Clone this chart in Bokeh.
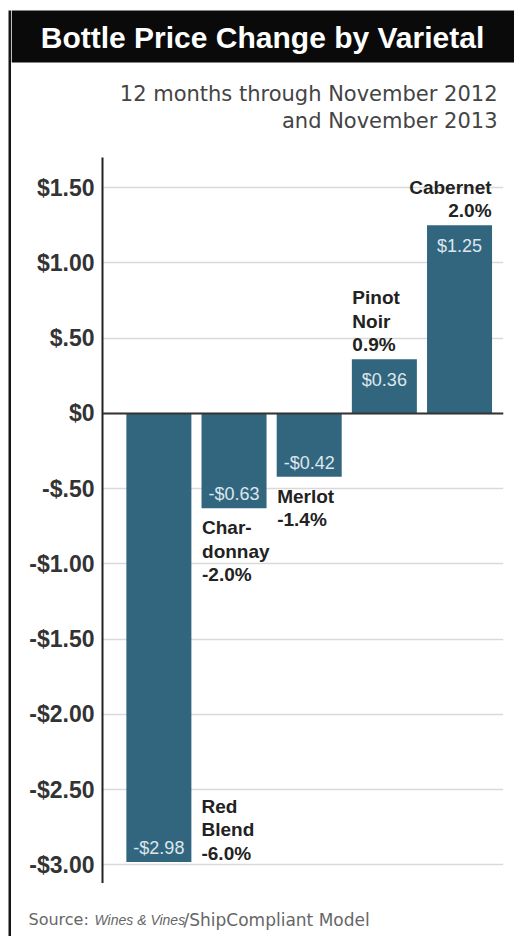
from bokeh.plotting import figure
from bokeh.layouts import row, column
from bokeh.models import (ColumnDataSource, Range1d, FixedTicker, Span, Label,
                          BoxAnnotation)
from bokeh.core.properties import value, field
from bokeh.embed import file_html
from bokeh.resources import INLINE

# ---------------- data ----------------
varietals = ["Red Blend", "Chardonnay", "Merlot", "Pinot Noir", "Cabernet"]
label_names = ["Red\nBlend", "Char-\ndonnay", "Merlot", "Pinot\nNoir", "Cabernet"]
price_change = [-2.98, -0.63, -0.42, 0.36, 1.25]
pct_change = [-6.0, -2.0, -1.4, 0.9, 2.0]
y_ticks = [-3.0, -2.5, -2.0, -1.5, -1.0, -0.5, 0.0, 0.5, 1.0, 1.5]
y_tick_labels = ["-$3.00", "-$2.50", "-$2.00", "-$1.50", "-$1.00", "-$.50",
                 "$0", "$.50", "$1.00", "$1.50"]
title_text = "Bottle Price Change by Varietal"
subtitle_lines = ["12 months through November 2012", "and November 2013"]

# ---------------- styling ----------------
BAR = "#32667f"
FONT = "Liberation Sans"
TOTAL_W = 514
TOTAL_H = 936
STRIP_W = 11
W = TOTAL_W - STRIP_W
HEAD_H = 157
MAIN_H = 726
FOOT_H = TOTAL_H - HEAD_H - MAIN_H


def bare(width, height):
    f = figure(width=width, height=height, output_backend="svg",
               toolbar_location=None, x_axis_location=None, y_axis_location=None,
               x_range=Range1d(0, width), y_range=Range1d(height, 0),
               min_border=0, outline_line_color=None, frame_align=False)
    f.grid.visible = False
    return f


# left black border strip
strip = bare(STRIP_W, TOTAL_H)
strip.add_layout(BoxAnnotation(left=8, right=11, top=10, bottom=TOTAL_H,
                               fill_color="#161616", fill_alpha=1, line_color=None))

# header
head = bare(W, HEAD_H)
head.add_layout(BoxAnnotation(left=0, right=W, top=10, bottom=62,
                              fill_color="#0a0a0a", fill_alpha=1, line_color=None))
head.add_layout(Label(x=251, y=37, text=title_text, text_align="center",
                      text_baseline="middle", text_color="white",
                      text_font=FONT, text_font_style="bold",
                      text_font_size="30px"))
for i, line in enumerate(subtitle_lines):
    head.add_layout(Label(x=486, y=93 + 27 * i, text=line, text_align="right",
                          text_baseline="middle", text_color="#444444",
                          text_font="DejaVu Sans", text_font_size="21px"))

# main chart
idx = list(range(len(varietals)))
val_text = [("-$%.2f" % abs(v)) if v < 0 else ("$%.2f" % v) for v in price_change]
cat_text = [n + "\n" + ("%.1f%%" % p) for n, p in zip(label_names, pct_change)]

src = ColumnDataSource(dict(
    x=idx, top=price_change, name=varietals, vtext=val_text, ctext=cat_text,
    vbase=["top" if v > 0 else "bottom" for v in price_change],
    vdy=[11 if v > 0 else -4 for v in price_change],
    calign=["left", "left", "left", "left", "right"],
    cbase=["bottom", "top", "top", "bottom", "bottom"],
    cdx=[42.6, -32, -32, -32, 32],
    cdy=[2, 9, 9, -4, -4],
))

p = figure(width=W, height=MAIN_H, output_backend="svg", toolbar_location=None,
           x_range=Range1d(-0.75, 4.585), y_range=Range1d(-3.123, 1.701),
           x_axis_location=None, min_border_left=91, min_border_right=11,
           min_border_top=0, min_border_bottom=0, outline_line_color=None,
           frame_align=False)

p.xgrid.visible = False
p.ygrid.ticker = FixedTicker(ticks=y_ticks)
p.ygrid.grid_line_color = "#d9d9d9"
p.ygrid.grid_line_width = 1.5

ax = p.yaxis[0]
ax.ticker = FixedTicker(ticks=y_ticks)
ax.major_label_overrides = {t: l for t, l in zip(y_ticks, y_tick_labels)}
ax.major_tick_line_color = None
ax.minor_tick_line_color = None
ax.major_tick_out = 0
ax.major_label_standoff = 8
ax.axis_line_color = "#222222"
ax.axis_line_width = 2
ax.major_label_text_font = FONT
ax.major_label_text_font_style = "bold"
ax.major_label_text_font_size = "23px"
ax.major_label_text_color = "#333333"

p.vbar(x="x", top="top", bottom=0, width=0.865, source=src,
       fill_color=BAR, line_color=None)

p.add_layout(Span(location=0, dimension="width", line_color="#333333", line_width=2))

p.text(x="x", y="top", text="vtext", source=src, text_align="center",
       text_baseline=field("vbase"), y_offset="vdy", text_color="#dce6ec",
       text_font=value(FONT), text_font_size="18px")

p.text(x="x", y="top", text="ctext", source=src, text_align=field("calign"),
       text_baseline=field("cbase"), x_offset="cdx", y_offset="cdy",
       text_color="#222222", text_font=value(FONT), text_font_style="bold",
       text_font_size="19px", text_line_height=1.12)

# footer
foot = bare(W, FOOT_H)
foot.add_layout(Label(x=17, y=36, text="Source: ", text_baseline="middle",
                      text_color="#666666", text_font="DejaVu Sans",
                      text_font_size="16px"))
foot.add_layout(Label(x=83, y=36, text="Wines & Vines", text_baseline="middle",
                      text_color="#666666", text_font="Liberation Sans",
                      text_font_style="italic", text_font_size="14px"))
foot.add_layout(Label(x=172, y=36, text="/ShipCompliant Model", text_baseline="middle",
                      text_color="#666666", text_font="DejaVu Sans",
                      text_font_size="17px"))

layout = row(strip, column(head, p, foot))

open("out.html", "w").write(file_html(layout, INLINE))
